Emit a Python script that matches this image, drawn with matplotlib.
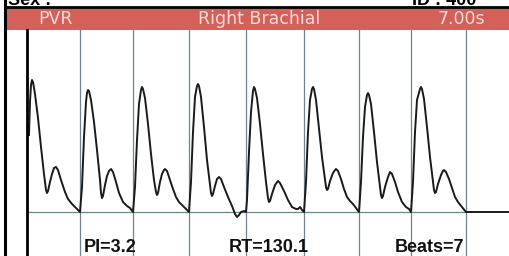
import matplotlib
matplotlib.use('Agg')
import matplotlib.pyplot as plt
from matplotlib.patches import Rectangle

# Header / banner texts
header_left = 'Sex :'
header_right = 'ID : 400'
banner_labels = ['PVR', 'Right Brachial', '7.00s']
footer_labels = ['PI=3.2', 'RT=130.1', 'Beats=7']

# Waveform, one list pair per beat
# (sample position, amplitude above baseline)
beat1_x = [29, 30, 31, 32, 33, 35, 38, 41, 44, 46, 47, 48, 50, 52, 54, 56, 58, 61, 65, 68, 72, 76, 80]
beat1_y = [77, 110, 127, 132, 130, 118, 94, 65, 38, 22, 19, 21, 30, 38, 44, 45, 42, 32, 20, 13, 8, 4, 0]
beat2_x = [82, 84, 86, 87, 88, 89, 91, 94, 97, 100, 101, 102, 103, 105, 107, 109, 111, 113, 116, 119, 123, 127, 130, 133]
beat2_y = [25, 75, 110, 119, 122, 121, 112, 90, 62, 32, 19, 14, 16, 27, 36, 41, 43, 40, 30, 19, 10, 6, 4, 0]
beat3_x = [135, 137, 139, 141, 142, 143, 145, 148, 151, 154, 156, 157, 158, 160, 162, 164, 165, 167, 170, 173, 176, 179, 182, 185, 189]
beat3_y = [25, 72, 108, 122, 125, 123, 114, 88, 58, 32, 20, 17, 19, 30, 38, 42, 43, 41, 32, 23, 15, 10, 7, 4, 0]
beat4_x = [191, 193, 195, 197, 198, 199, 201, 204, 207, 210, 211, 212, 213, 215, 217, 219, 221, 224, 228, 232, 235, 237, 239, 241, 244, 246]
beat4_y = [30, 80, 115, 126, 128, 126, 115, 85, 52, 27, 19, 16, 18, 26, 33, 35, 33, 25, 15, 6, -2, -5, -3, 0, 1, 0]
beat5_x = [247, 249, 251, 253, 254, 255, 257, 260, 263, 266, 268, 269, 270, 272, 275, 278, 280, 284, 288, 292, 296, 298, 300, 302, 304]
beat5_y = [12, 60, 100, 121, 125, 123, 114, 88, 58, 30, 14, 10, 11, 18, 27, 31, 29, 21, 12, 5, 3, 3, 5, 2, 0]
beat6_x = [306, 308, 310, 312, 313, 314, 316, 319, 322, 325, 326, 327, 328, 330, 333, 335, 336, 338, 341, 344, 347, 350, 353, 356, 359]
beat6_y = [30, 80, 112, 123, 125, 123, 112, 84, 55, 32, 25, 22, 23, 31, 39, 42, 43, 41, 33, 23, 15, 11, 8, 4, 0]
beat7_x = [361, 363, 365, 367, 368, 369, 371, 374, 377, 380, 381, 382, 383, 385, 388, 390, 392, 395, 398, 402, 406, 409, 411]
beat7_y = [30, 75, 105, 117, 119, 117, 108, 80, 50, 25, 17, 14, 16, 25, 35, 40, 38, 30, 20, 10, 5, 3, 0]
beat8_x = [413, 415, 417, 420, 421, 422, 424, 427, 430, 433, 434, 435, 436, 438, 441, 443, 444, 446, 449, 452, 455, 458, 462, 466, 510]
beat8_y = [30, 80, 112, 123, 125, 123, 113, 85, 55, 30, 22, 19, 20, 28, 37, 41, 42, 40, 33, 24, 15, 10, 5, 0, 0]

wave_x = beat1_x + beat2_x + beat3_x + beat4_x + beat5_x + beat6_x + beat7_x + beat8_x
wave_y = beat1_y + beat2_y + beat3_y + beat4_y + beat5_y + beat6_y + beat7_y + beat8_y

# Beat onsets (vertical markers)
beat_marks = [80, 133, 189, 246, 304, 359, 411, 466]

W, H = 510, 256
fig = plt.figure(figsize=(W / 100, H / 100), dpi=100)
fig.patch.set_facecolor('white')

# plot area
ax = fig.add_axes([27 / W, 0, (W - 27) / W, (H - 30) / H])
ax.set_xlim(27, 510)
ax.set_ylim(-44, 182)
ax.axis('off')

for bx in beat_marks:
    ax.axvline(bx, color='#6f858c', lw=0.9, zorder=1)
ax.plot([27, beat_marks[-1]], [0, 0], color='#6f858c', lw=0.9, zorder=1)
ax.plot(wave_x, wave_y, color='#1a1a1a', lw=1.4, zorder=3,
        solid_joinstyle='round')

# footer values
foot_pos = [110, 269, 430]
for lbl, fx in zip(footer_labels, foot_pos):
    ax.text(fx, -40, lbl, ha='center', va='baseline', fontsize=13,
            fontweight='bold', family='Liberation Sans', color='#111111')

# frame lines in figure coords
fig.add_artist(plt.Line2D([5 / W, 5 / W], [0, 1], color='black', lw=2.2))
fig.add_artist(plt.Line2D([27 / W, 27 / W], [0, (H - 30) / H], color='black', lw=2.0))
fig.add_artist(plt.Line2D([5 / W, 1], [1 - 7 / H, 1 - 7 / H], color='black', lw=2.0))

# red banner
fig.add_artist(Rectangle((7 / W, 1 - 30 / H), (W - 7) / W, 22 / H,
                         transform=fig.transFigure, facecolor='#d4605a',
                         edgecolor='none'))
banner_pos = [56, 259, 461]
for lbl, bxp in zip(banner_labels, banner_pos):
    fig.text(bxp / W, 1 - 19.5 / H, lbl, ha='center', va='center',
             fontsize=12.5, color='#f6dcd9', family='DejaVu Sans')

# cut-off header text
fig.text(8 / W, 1 - 5 / H, header_left, ha='left', va='baseline',
         fontsize=13, fontweight='bold', family='Liberation Sans')
fig.text(412 / W, 1 - 5 / H, header_right, ha='left', va='baseline',
         fontsize=13, fontweight='bold', family='Liberation Sans')

fig.savefig('out.png', dpi=100)
